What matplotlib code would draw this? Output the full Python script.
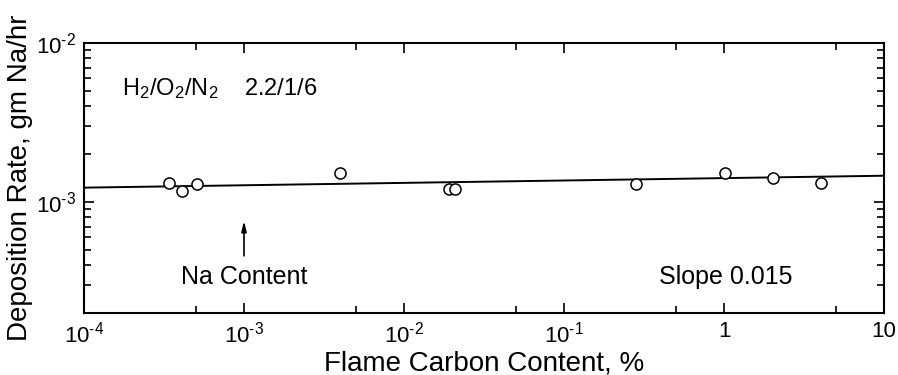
import numpy as np
import matplotlib
matplotlib.use('Agg')
import matplotlib.pyplot as plt
from matplotlib.ticker import FixedLocator, FixedFormatter, LogLocator, NullFormatter

plt.rcParams['font.family'] = ['Liberation Sans', 'DejaVu Sans']
plt.rcParams['mathtext.fontset'] = 'custom'
plt.rcParams['mathtext.rm'] = 'Liberation Sans'
plt.rcParams['mathtext.it'] = 'Liberation Sans'

# measured deposition rate vs carbon content in the flame
carbon_pct = [3.4e-4, 4.1e-4, 5.1e-4, 4.0e-3, 1.9e-2, 2.08e-2, 0.28, 1.01, 2.02, 4.04]
dep_rate = [1.31e-3, 1.17e-3, 1.29e-3, 1.52e-3, 1.20e-3, 1.20e-3, 1.29e-3, 1.52e-3, 1.41e-3, 1.31e-3]

# log-log fit line
slope = 0.015
rate_at_1e4 = 1.23e-3
fit_x = [1e-4, 10]

x_ticks = [1e-4, 1e-3, 1e-2, 1e-1, 1, 10]
x_labels = [r'$10^{\text{-}4}$', r'$10^{\text{-}3}$', r'$10^{\text{-}2}$', r'$10^{\text{-}1}$', '1', '10']
x_minor = [5e-4, 5e-3, 5e-2, 5e-1, 5]
y_ticks = [1e-3, 1e-2]
y_labels = [r'$10^{\text{-}3}$', r'$10^{\text{-}2}$']

fig = plt.figure(figsize=(8.98, 3.75), dpi=100)
ax = fig.add_axes([0.0935, 0.1653, 0.891, 0.72])
ax.set_xscale('log')
ax.set_yscale('log')
ax.set_xlim(1e-4, 10)
ax.set_ylim(2e-4, 1e-2)

fx = np.array(fit_x)
ax.plot(fx, rate_at_1e4 * (fx / 1e-4) ** slope, color='black', lw=1.4, zorder=2)
ax.plot(carbon_pct, dep_rate, 'o', ms=8, mfc='white', mec='black', mew=1.1, zorder=3)

ax.xaxis.set_major_locator(FixedLocator(x_ticks))
ax.xaxis.set_major_formatter(FixedFormatter(x_labels))
ax.xaxis.set_minor_locator(FixedLocator(x_minor))
ax.xaxis.set_minor_formatter(NullFormatter())
ax.yaxis.set_major_locator(FixedLocator(y_ticks))
ax.yaxis.set_major_formatter(FixedFormatter(y_labels))
ax.yaxis.set_minor_locator(LogLocator(base=10, subs=np.arange(2, 10)))
ax.yaxis.set_minor_formatter(NullFormatter())

ax.tick_params(which='both', direction='in', top=True, right=True, width=1.2, labelsize=16, colors='black')
ax.tick_params(which='major', length=7, pad=6)
ax.tick_params(which='minor', length=5)
for s in ax.spines.values():
    s.set_linewidth(1.5)

ax.set_xlabel('Flame Carbon Content, %', fontsize=20, labelpad=2)
ax.set_ylabel('Deposition Rate, gm Na/hr', fontsize=20, labelpad=2)

ax.text(0.047, 0.83, 'H$_2$/O$_2$/N$_2$    2.2/1/6', transform=ax.transAxes, fontsize=17, va='center')
ax.annotate('', xy=(1e-3, 7.9e-4), xytext=(1e-3, 4.4e-4),
            arrowprops=dict(arrowstyle='-|>,head_length=0.6,head_width=0.15', color='black', lw=1.2))
ax.text(1e-3, 3.35e-4, 'Na Content', fontsize=18, ha='center', va='center')
ax.text(1.03, 3.35e-4, 'Slope 0.015', fontsize=18, ha='center', va='center')

fig.savefig('out.png', dpi=100)
